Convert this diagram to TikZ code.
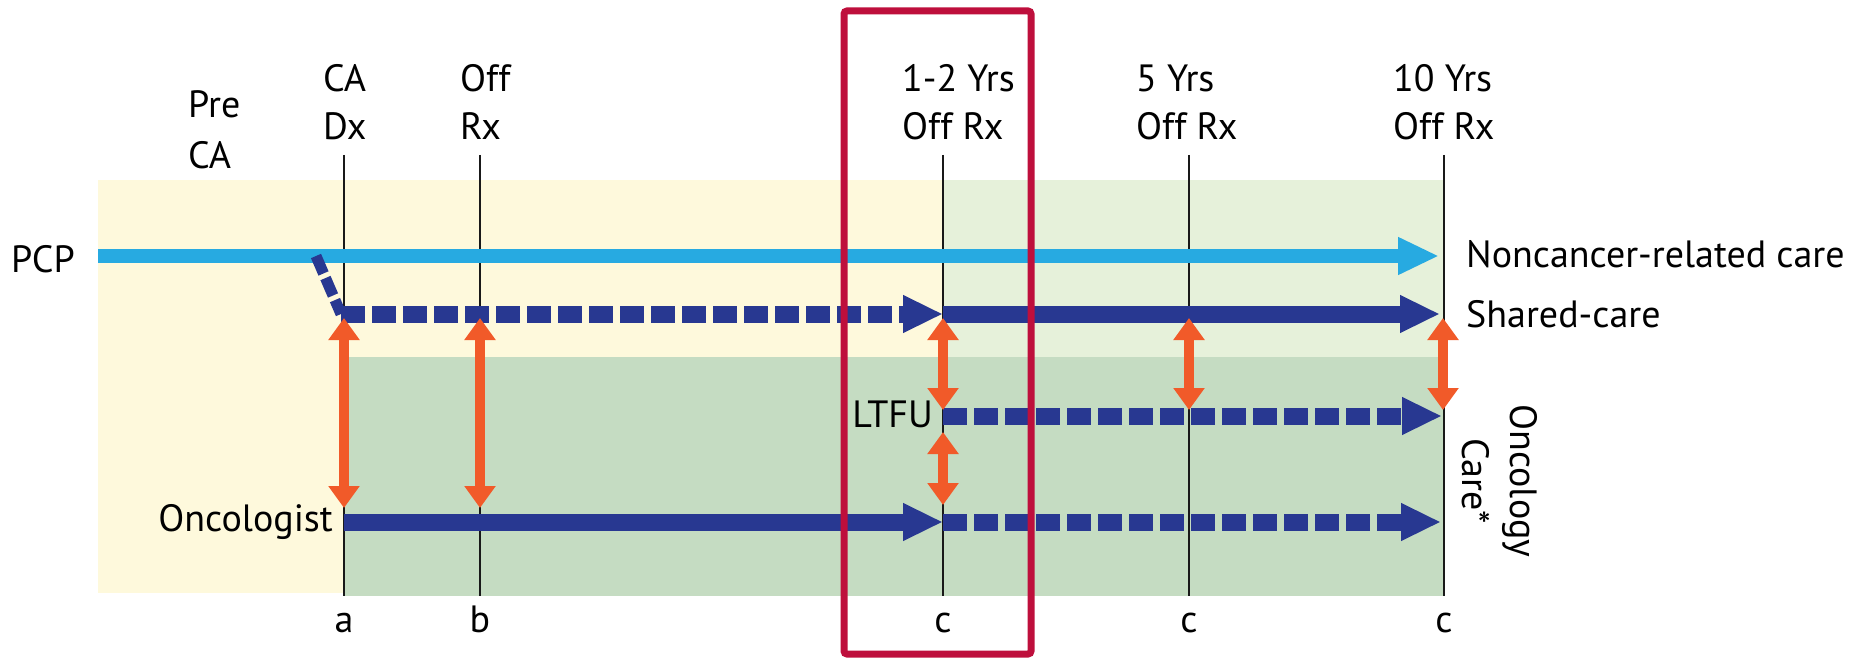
\documentclass[tikz,border=0pt]{standalone}
\usepackage{fontspec}
\setmainfont{PT Sans}
\usetikzlibrary{arrows.meta}
\definecolor{navy}{HTML}{283891}
\definecolor{skyblue}{HTML}{27AAE1}
\definecolor{cream}{HTML}{FEF9DC}
\definecolor{palegreen}{HTML}{E6F1DA}
\definecolor{sage}{HTML}{C5DCC2}
\definecolor{flame}{HTML}{F15A29}
\definecolor{crimson}{HTML}{BE0F3C}
\tikzset{lbl/.style={font=\fontsize{38}{48}\selectfont,inner sep=0pt},
  tick/.style={black!90,line width=2pt},
  solidpath/.style={navy,line width=17pt,-{Triangle[length=40pt,width=35pt]}},
  dashpath/.style={solidpath,dash pattern=on 24pt off 7pt},
  link/.style={flame,line width=10pt,{Triangle[length=22pt,width=30pt]}-{Triangle[length=22pt,width=30pt]}}}

\begin{document}
\begin{tikzpicture}[x=1pt,y=-1pt]
\useasboundingbox (0,0) rectangle (1874,658);
% background bands
\fill[cream] (98,180) rectangle (944,593);
\fill[palegreen] (944,180) rectangle (1445,357);
\fill[sage] (344,357) rectangle (1445,596);
% time points
\foreach \nm/\xx/\tx in {a/344/a,b/480/b,c1/943/c,c2/1189/c,c3/1444/c}{
  \draw[tick] (\xx,155) -- (\xx,596);
  \node[lbl,anchor=base] (tick-\nm) at (\xx,632) {\tx};}
\node[lbl,font=\fontsize{38}{51}\selectfont,align=left,anchor=base west] (pre) at (188,168) {Pre\\CA};
\node[lbl,align=left,anchor=base west] (dx) at (323,140) {CA\\Dx};
\node[lbl,align=left,anchor=base west] (offrx) at (460,140) {Off\\Rx};
\node[lbl,align=left,anchor=base west] (yr2) at (902,140) {1-2 Yrs\\Off Rx};
\node[lbl,align=left,anchor=base west] (yr5) at (1136,140) {5 Yrs\\Off Rx};
\node[lbl,align=left,anchor=base west] (yr10) at (1393,140) {10 Yrs\\Off Rx};
% lanes
\coordinate (pcp-s) at (98,256);
\coordinate (pcp-e) at (1439,256);
\coordinate (bend) at (316,256);
\coordinate (sh-a) at (341,314);
\coordinate (sh-c) at (943,314);
\coordinate (sh-e) at (1440,314);
\coordinate (lt-c) at (943,416);
\coordinate (lt-e) at (1442,416);
\coordinate (on-a) at (344,522);
\coordinate (on-c) at (943,522);
\coordinate (on-e) at (1441,522);
\draw[skyblue,line width=14pt,-{Triangle[length=41pt,width=35pt]}] (pcp-s) -- (pcp-e);
\draw[navy,line width=11pt,dash pattern=on 19pt off 5pt] (bend) -- (sh-a);
\draw[dashpath] (sh-a) -- (sh-c);
\draw[solidpath] (sh-c) -- (sh-e);
\draw[dashpath] (lt-c) -- (lt-e);
\draw[solidpath] (on-a) -- (on-c);
\draw[dashpath] (on-c) -- (on-e);
% hand-offs
\foreach \xx/\ya/\yb in {344/318/508,480/318/508,943/318/410,943/432/505,1189/318/410,1443/318/410}
  \draw[link] (\xx,\ya) -- (\xx,\yb);
\node[lbl,anchor=base west] (pcp) at (11,272) {PCP};
\node[lbl,anchor=base west] (noncancer) at (1466,267) {Noncancer-related care};
\node[lbl,anchor=base west] (shared) at (1466,327) {Shared-care};
\node[lbl,anchor=base east] (onc) at (333,531) {Oncologist};
\node[lbl,anchor=base east] (ltfu) at (933,427) {LTFU};
\node[lbl,align=center,rotate=-90] (oncare) at (1500,481) {Oncology\\Care*};
% highlight
\draw[crimson,line width=7pt,rounded corners=3pt] (844,11) rectangle (1031,654);
\end{tikzpicture}
\end{document}
